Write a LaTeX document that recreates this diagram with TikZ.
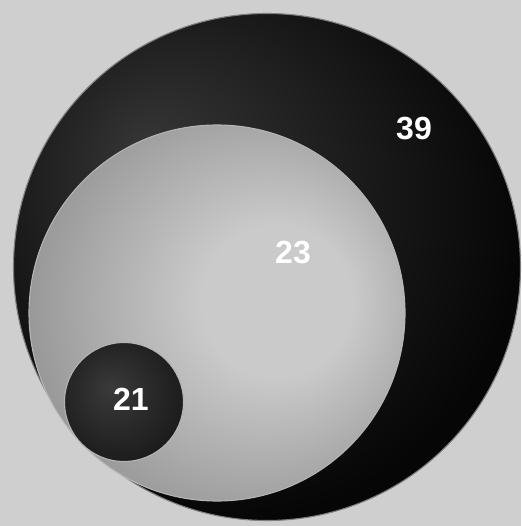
\documentclass[tikz,border=0pt]{standalone}
\usepackage{fontspec}
\setmainfont{Liberation Sans}
\definecolor{bgcol}{HTML}{CFCFCF}
\definecolor{bigin}{HTML}{363636}
\definecolor{bigout}{HTML}{060606}
\definecolor{midin}{HTML}{CACACA}
\definecolor{midout}{HTML}{828282}
\definecolor{smin}{HTML}{3A3A3A}
\definecolor{smout}{HTML}{1A1A1A}
\definecolor{rimcol}{HTML}{B4B4B4}
\pgfdeclareradialshading{bigshade}{\pgfpoint{-12bp}{12bp}}{color(0bp)=(bigin); color(30bp)=(bigout); color(50bp)=(bigout)}
\pgfdeclareradialshading{midshade}{\pgfpoint{10bp}{2bp}}{color(0bp)=(midin); color(10bp)=(midin); color(38bp)=(midout); color(50bp)=(midout)}
\pgfdeclareradialshading{smshade}{\pgfpoint{-6bp}{6bp}}{color(0bp)=(smin); color(30bp)=(smout); color(50bp)=(smout)}
\tikzset{
  disc/.style={circle, inner sep=0pt, outer sep=0pt, draw=rimcol, line width=1.1pt},
  num/.style={text=white, font=\bfseries\fontsize{32}{32}\selectfont}
}
\begin{document}
\begin{tikzpicture}[x=1pt,y=-1pt]
\fill[bgcol] (0,0) rectangle (521,526);
\useasboundingbox (0,0) rectangle (521,526);
\node[disc, shading=bigshade, draw=rimcol!70!black, minimum size=507pt] (big) at (267,267) {};
\node[disc, shading=midshade, minimum size=376pt] (mid) at (217,313) {};
\node[disc, shading=smshade, minimum size=119pt] (small) at (124,402) {};
\node[num] (t39) at (414,129) {39};
\node[num] (t23) at (293,253) {23};
\node[num] (t21) at (131,399) {21};
\end{tikzpicture}
\end{document}
